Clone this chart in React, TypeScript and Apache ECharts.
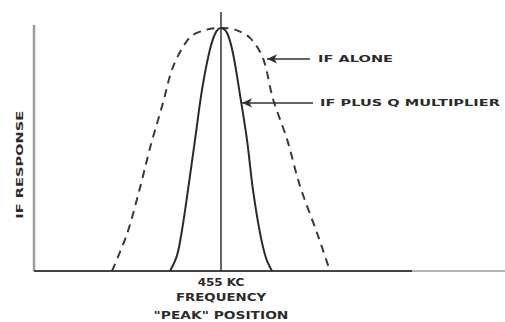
import React, { useEffect, useRef } from "react";
import * as echarts from "echarts";

// Frequency offset from 455 kc (arbitrary units), relative response (0..100)
const X_MIN = -18.7;
const X_MAX = 28.4;
const Y_MAX = 100;
const BASELINE_END = 19.1;
const Y_AXIS_TOP = 95;

const ifAloneX = [-10.9, -9.4, -8.1, -7.1, -5.8, -4.8, -3.1, -1.4, 0, 1.4, 2.9, 4.2, 5.2, 6.6, 7.9, 9.6, 10.9];
const ifAloneY = [0, 14.3, 32.1, 47.5, 64.9, 78.8, 90.3, 93.2, 93.8, 93.2, 90.0, 82.2, 66.4, 50.9, 32.8, 14.7, 0];

const ifQX = [-5.1, -4.4, -3.9, -3.3, -2.6, -1.9, -1.2, -0.6, 0, 0.6, 1.2, 1.9, 2.6, 3.2, 3.9, 4.5, 5.1];
const ifQY = [0, 6, 15.8, 31.3, 50.6, 69.9, 84, 91.5, 93.8, 92, 84, 68, 50.6, 31.3, 14.7, 5, 0];

const seriesNames = ["IF ALONE", "IF PLUS Q MULTIPLIER"];
// arrow tail x, arrow head x, y (data coords) for each annotation
const arrowTailX = [8.9, 9.2];
const arrowHeadX = [4.6, 2.1];
const arrowY = [81.9, 64.9];
const labelX = [9.7, 9.9];

const centerLabels = ["455 KC", "FREQUENCY", "\"PEAK\" POSITION"];
const yAxisName = "IF RESPONSE";

const TEXT_COLOR = "#2b2b2b";
const FONT = 'bold 9px "DejaVu Sans"';

export default function App() {
  const ref = useRef<HTMLDivElement>(null);

  useEffect(() => {
    document.body.style.margin = "0";
    const chart = echarts.init(ref.current!, null, { renderer: "svg" });

    const zip = (xs: number[], ys: number[]) => xs.map((x, i) => [x, ys[i]]);

    chart.setOption({
      animation: false,
      backgroundColor: "#ffffff",
      grid: { left: 34, right: 0, top: 12, bottom: 51 },
      xAxis: {
        type: "value",
        min: X_MIN,
        max: X_MAX,
        axisLine: { show: true, lineStyle: { color: "#9a9a9a", width: 1.5 } },
        axisTick: { show: false },
        axisLabel: { show: false },
        splitLine: { show: false },
      },
      yAxis: {
        type: "value",
        min: 0,
        max: Y_MAX,
        show: false,
      },
      series: [
        {
          name: "yaxis",
          type: "line",
          data: [[X_MIN, 0], [X_MIN, Y_AXIS_TOP]],
          showSymbol: false,
          lineStyle: { color: "#9c9c9c", width: 2.5 },
          silent: true,
        },
        {
          name: "baseline",
          type: "line",
          data: [[X_MIN, 0], [BASELINE_END, 0]],
          showSymbol: false,
          lineStyle: { color: "#444", width: 2 },
          silent: true,
        },
        {
          name: seriesNames[0],
          type: "line",
          data: zip(ifAloneX, ifAloneY),
          smooth: 0.3,
          showSymbol: false,
          lineStyle: { color: "#3a3a3a", width: 2, type: [8, 6] },
        },
        {
          name: seriesNames[1],
          type: "line",
          data: zip(ifQX, ifQY),
          smooth: 0.35,
          showSymbol: false,
          lineStyle: { color: "#2a2a2a", width: 2 },
          markLine: {
            silent: true,
            symbol: "none",
            label: { show: false },
            lineStyle: { color: "#333", width: 1.5, type: "solid" },
            data: [
              { xAxis: 0 },
              [
                { coord: [arrowTailX[0], arrowY[0]], symbol: "none" },
                { coord: [arrowHeadX[0], arrowY[0]], symbol: "arrow", symbolSize: [7, 10] },
              ],
              [
                { coord: [arrowTailX[1], arrowY[1]], symbol: "none" },
                { coord: [arrowHeadX[1], arrowY[1]], symbol: "arrow", symbolSize: [7, 10] },
              ],
            ],
          },
        },
      ],
    });

    const px = (x: number, y: number) =>
      chart.convertToPixel({ gridIndex: 0 }, [x, y]) as number[];

    const texts: any[] = [];
    seriesNames.forEach((name, i) => {
      const p = px(labelX[i], arrowY[i]);
      texts.push({
        type: "text",
        x: p[0],
        y: p[1],
        scaleX: 1.62,
        style: {
          text: name,
          fill: TEXT_COLOR,
          font: FONT,
          align: "left",
          verticalAlign: "middle",
          textAlign: "left",
          textVerticalAlign: "middle",
        },
      });
    });
    const base = px(0, 0);
    const rowY = [12, 27, 45];
    const rowScale = [1.2, 1.33, 1.38];
    centerLabels.forEach((t, i) => {
      texts.push({
        type: "text",
        x: base[0],
        y: base[1] + rowY[i],
        scaleX: rowScale[i],
        style: {
          text: t,
          fill: TEXT_COLOR,
          font: 'bold 10px "DejaVu Sans"',
          align: "center",
          verticalAlign: "middle",
          textAlign: "center",
          textVerticalAlign: "middle",
        },
      });
    });
    const yl = px(X_MIN, 41);
    texts.push({
      type: "text",
      x: yl[0] - 14,
      y: yl[1],
      rotation: Math.PI / 2,
      scaleX: 1.62,
      style: {
        text: yAxisName,
        fill: TEXT_COLOR,
        font: FONT,
        align: "center",
        verticalAlign: "middle",
        textAlign: "center",
        textVerticalAlign: "middle",
      },
    });

    chart.setOption({ graphic: texts });

    return () => chart.dispose();
  }, []);

  return <div ref={ref} style={{ width: 505, height: 322 }} />;
}
